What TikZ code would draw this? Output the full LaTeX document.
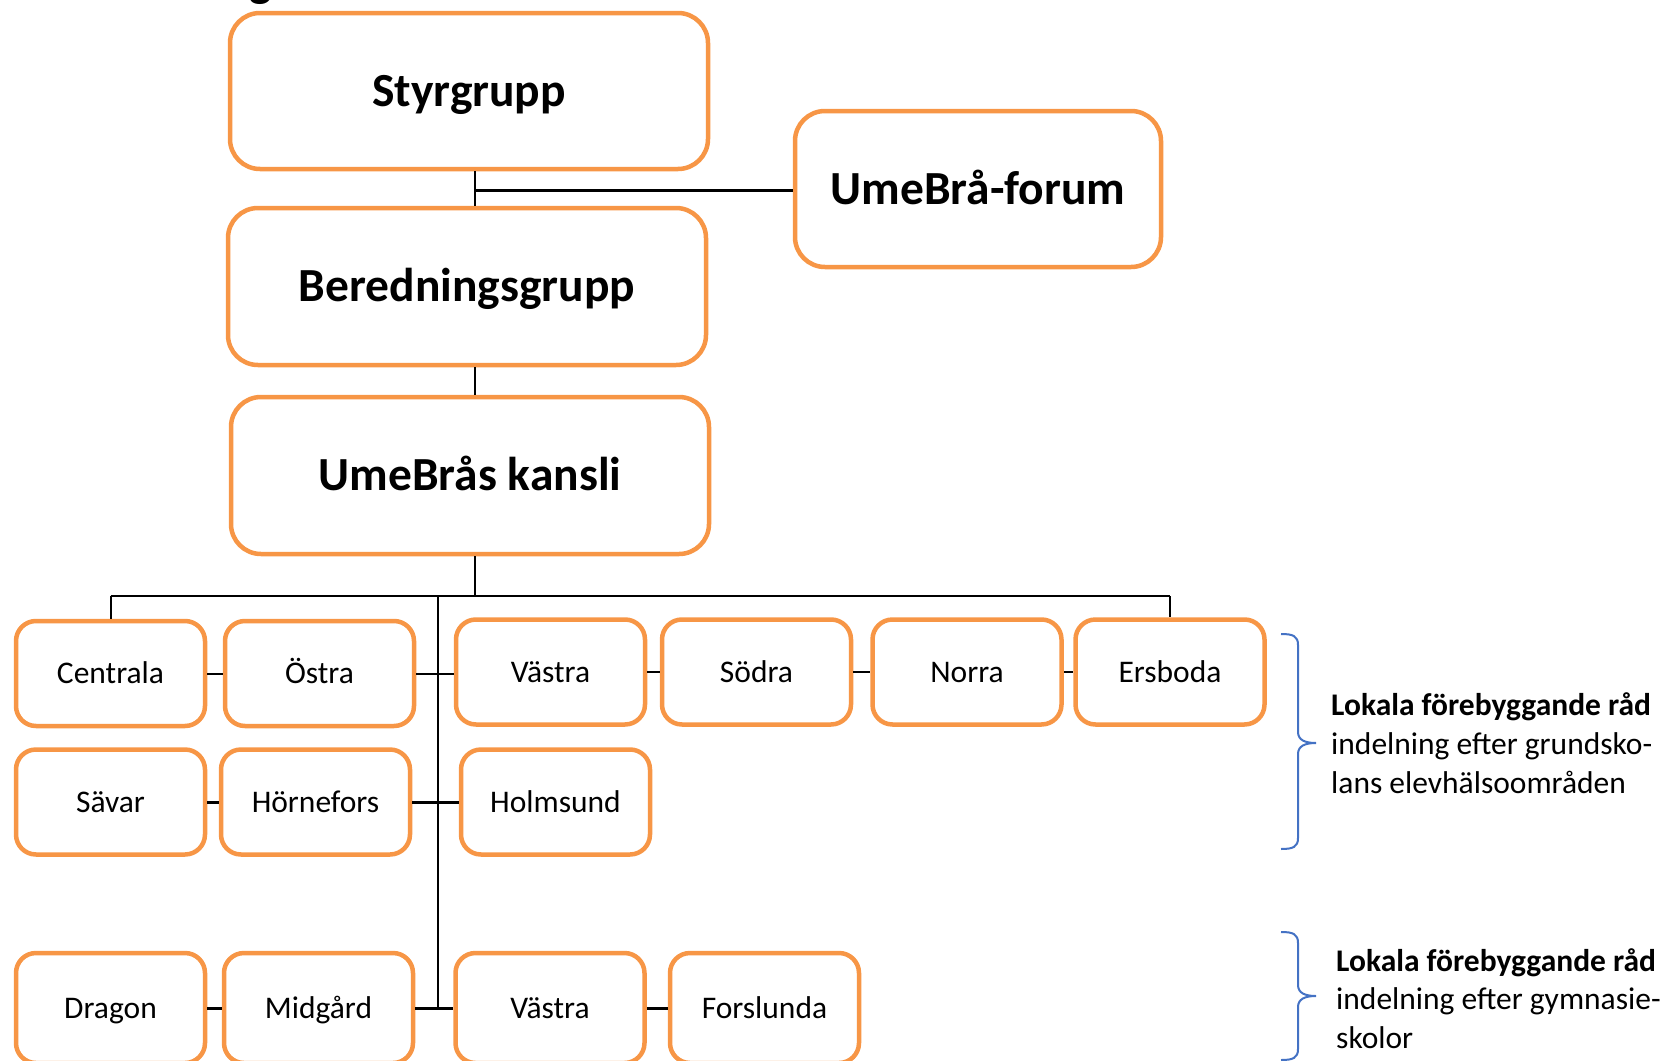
\documentclass[tikz,border=0pt]{standalone}
\usepackage{fontspec}
\setmainfont{Carlito}
\definecolor{boxorange}{HTML}{F79646}
\definecolor{braceblue}{HTML}{4472C4}
\begin{document}
\begin{tikzpicture}[x=1pt,y=-1pt,
  bigbox/.style={draw=boxorange,line width=4.5pt,rounded corners=30pt,fill=white,
    minimum width=478pt,minimum height=156pt,text height=30pt,text depth=0pt,
    font=\bfseries\fontsize{47.5}{50}\selectfont,inner sep=0pt},
  smallbox/.style={draw=boxorange,line width=4.5pt,rounded corners=20pt,fill=white,
    minimum width=189pt,minimum height=105pt,text height=20pt,text depth=0pt,
    font=\fontsize{31.5}{36}\selectfont,inner sep=0pt},
  conn/.style={draw=black,line width=2pt},
  connthick/.style={draw=black,line width=3pt},
  bracestyle/.style={draw=braceblue,line width=2pt},
  sidebold/.style={anchor=base west,inner sep=0pt,font=\bfseries\fontsize{31.5}{39}\selectfont},
  sidetext/.style={anchor=base west,inner sep=0pt,font=\fontsize{31.5}{39}\selectfont}
]
\useasboundingbox (0,0) rectangle (1670,1060);

% cut-off title fragment
\node[anchor=base,inner sep=0pt,font=\bfseries\fontsize{47.5}{50}\selectfont] (title) at (261,-4) {g};

% big boxes
\node[bigbox] (sty) at (469,91) {Styrgrupp};
\node[bigbox,minimum width=366pt] (forum) at (978,189) {UmeBrå-forum};
\node[bigbox,minimum height=157pt] (ber) at (467,286.5) {Beredningsgrupp};
\node[bigbox,minimum height=157pt] (kan) at (470,475.5) {UmeBrås kansli};

% junction coordinates
\coordinate (j1) at (475,190);
\coordinate (bus) at (475,596);
\coordinate (trtop) at (438,596);
\coordinate (trbot) at (438,1008);

% row 1
\node[smallbox] (cen) at (110.5,673.5) {Centrala};
\node[smallbox] (ost) at (319.5,673.5) {Östra};
\node[smallbox] (vas) at (550.5,672) {Västra};
\node[smallbox] (sod) at (756.5,672) {Södra};
\node[smallbox] (nor) at (967,672) {Norra};
\node[smallbox] (ers) at (1170,672) {Ersboda};
% row 2
\node[smallbox] (sav) at (110.5,802) {Sävar};
\node[smallbox] (hor) at (315.5,802) {Hörnefors};
\node[smallbox] (hol) at (555.5,802) {Holmsund};
% row 3
\node[smallbox,minimum height=110pt] (dra) at (110.5,1008) {Dragon};
\node[smallbox,minimum height=110pt] (mid) at (318.5,1008) {Midgård};
\node[smallbox,minimum height=110pt] (vas2) at (550,1008) {Västra};
\node[smallbox,minimum height=110pt] (for) at (764.5,1008) {Forslunda};

% top connectors
\draw[conn] (sty.south -| j1) -- (ber.north -| j1);
\draw[connthick] (j1) -- (forum.west |- j1);
\draw[conn] (ber.south -| j1) -- (kan.north -| j1);
\draw[conn] (kan.south -| bus) -- (bus);
\draw[conn] (cen.north |- bus) -- (ers.north |- bus);
\draw[conn] (cen.north |- bus) -- (cen.north);
\draw[conn] (ers.north |- bus) -- (ers.north);
\draw[conn] (trtop) -- (trbot);

% row connectors
\draw[conn] (cen.east) -- (ost.west);
\draw[conn] (ost.east) -- (ost.east -| vas.west);
\draw[conn] (vas.east) -- (sod.west);
\draw[conn] (sod.east) -- (nor.west);
\draw[conn] (nor.east) -- (ers.west);
\draw[connthick] (sav.east) -- (hor.west);
\draw[connthick] (hor.east) -- (hol.west);
\draw[connthick] (dra.east) -- (mid.west);
\draw[connthick] (mid.east) -- (vas2.west);
\draw[connthick] (vas2.east) -- (for.west);

% braces
\draw[bracestyle] (1281,634) .. controls (1293,634) and (1298,636) .. (1298,645)
  -- (1298,732) .. controls (1298,740) and (1305,743) .. (1316,743)
  .. controls (1305,743) and (1298,746) .. (1298,754)
  -- (1298,838) .. controls (1298,847) and (1293,849) .. (1281,849);
\draw[bracestyle] (1281,932) .. controls (1293,932) and (1298,934) .. (1298,943)
  -- (1298,985) .. controls (1298,993) and (1305,996) .. (1316,996)
  .. controls (1305,996) and (1298,999) .. (1298,1007)
  -- (1298,1049) .. controls (1298,1058) and (1293,1060) .. (1281,1060);

% side texts
\node[sidebold] (t1a) at (1331,715) {Lokala förebyggande råd};
\node[sidetext] (t1b) at (1331,754) {indelning efter grundsko-};
\node[sidetext] (t1c) at (1331,793) {lans elevhälsoområden};
\node[sidebold] (t2a) at (1336,971) {Lokala förebyggande råd};
\node[sidetext] (t2b) at (1336,1009) {indelning efter gymnasie-};
\node[sidetext] (t2c) at (1336,1048) {skolor};
\end{tikzpicture}
\end{document}
